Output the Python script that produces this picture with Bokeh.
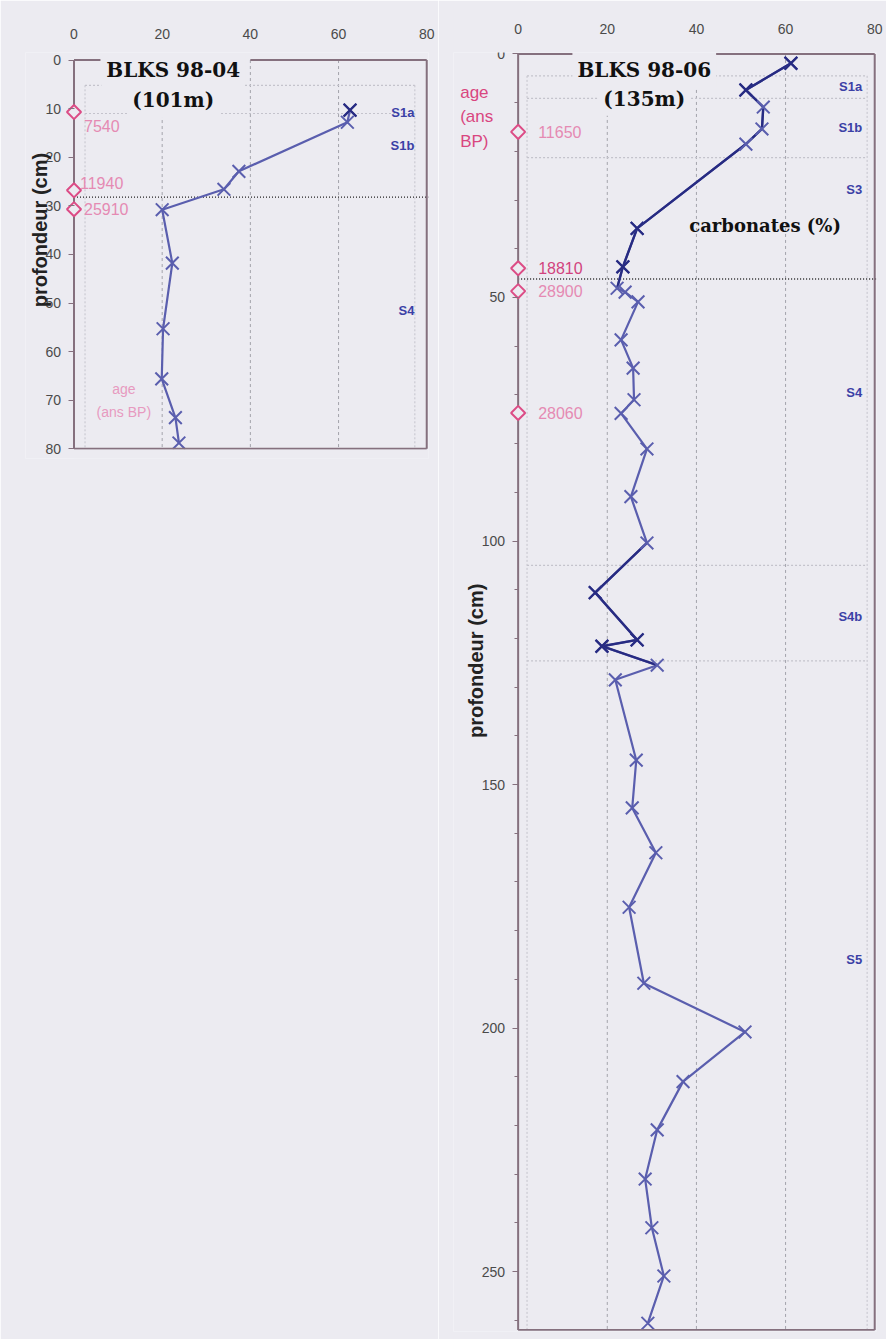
import math
from bokeh.plotting import figure
from bokeh.models import Range1d, FixedTicker, Label
from bokeh.layouts import row
from bokeh.embed import file_html
from bokeh.resources import INLINE
from bokeh.core.properties import value

# ---------------- data : BLKS 98-04 (101 m) ----------------
depth_04 = [10.3, 12.8, 22.9, 26.6, 30.8, 41.8, 55.3, 65.6, 73.6, 78.8]
carb_04 = [62.6, 62.0, 37.4, 34.0, 20.0, 22.3, 20.2, 19.9, 23.0, 23.8]
age_depth_04 = [10.7, 26.8, 30.7]
age_04 = ["7540", "11940", "25910"]
zone_names_04 = ["S1a", "S1b", "S4"]
zone_label_depth_04 = [10.7, 17.5, 51.5]
zone_bounds_04 = [5.2, 11.0]
main_bound_04 = [28.2]
y_ticks_04 = [0, 10, 20, 30, 40, 50, 60, 70, 80]

# ---------------- data : BLKS 98-06 (135 m) ----------------
depth_06 = [1.9, 7.4, 10.9, 15.4, 18.5, 35.8, 43.7, 48.1, 48.9, 50.9, 58.7, 64.5,
            71.0, 73.8, 81.1, 90.9, 100.4, 110.6, 120.3, 121.6, 125.5, 128.5,
            145.0, 154.8, 164.0, 175.2, 190.8, 200.8, 211.0, 220.9, 231.0,
            241.0, 250.9, 260.6]
carb_06 = [61.2, 51.1, 55.0, 54.7, 51.1, 26.7, 23.5, 22.2, 24.0, 26.9, 23.1, 25.8,
           26.0, 23.1, 28.9, 25.3, 28.9, 17.3, 26.7, 18.8, 31.2, 21.8,
           26.5, 25.6, 30.9, 24.9, 28.2, 50.9, 37.0, 31.2, 28.5,
           30.0, 32.7, 29.1]
age_depth_06 = [16.0, 44.0, 48.7, 73.7]
age_06 = ["11650", "18810", "28900", "28060"]
zone_names_06 = ["S1a", "S1b", "S3", "S4", "S4b", "S5"]
zone_label_depth_06 = [6.7, 15.2, 27.9, 69.6, 115.6, 186.0]
zone_bounds_06 = [4.5, 9.1, 21.3, 105.0, 124.6]
main_bound_06 = [46.2]
y_ticks_06 = [0, 50, 100, 150, 200, 250]
y_minor_06 = list(range(0, 261, 10))

x_ticks = [0, 20, 40, 60, 80]
x_grid = [20, 40, 60]

# ---------------- style ----------------
BG = "#ecebf1"
FRAME = "#85707e"
LIGHT = "#5a5eae"
DARK = "#272b82"
AGE_MARK = "#dc4c86"
AGE_LIGHT = "#e58ab3"
AGE_DARK = "#d2437e"
ZONE_TXT = "#3b40a6"
GRID = "#a3a3ab"
BOX = "#c4c3cc"
TICK_TXT = "#4a4a4a"
PAD = 0.3


def panel(depth, carb, x_start, y_end, y_bottom, y_top, y_ticks, y_minor, frame_w,
          frame_h, b_left, b_top, b_right, b_bottom, top_gap, box_x, dark_runs,
          dark_pts, ages, age_depth, age_dx, age_dy, age_colors, zones, zone_depth,
          zone_bounds, main_bound, tick_standoff):
    p = figure(frame_width=frame_w, frame_height=frame_h,
               x_range=Range1d(x_start, 80.4), y_range=Range1d(y_bottom, y_top),
               x_axis_location="above", output_backend="svg", toolbar_location=None,
               min_border_left=b_left, min_border_top=b_top,
               min_border_right=b_right, min_border_bottom=b_bottom)
    p.background_fill_color = BG
    p.border_fill_color = BG
    p.outline_line_color = None

    xa = p.xaxis[0]
    xa.ticker = FixedTicker(ticks=x_ticks)
    xa.axis_line_color = None
    xa.major_tick_line_color = None
    xa.minor_tick_line_color = None
    xa.major_label_text_font = "Liberation Sans"
    xa.major_label_text_font_size = "14px"
    xa.major_label_text_color = TICK_TXT
    xa.major_label_standoff = tick_standoff

    ya = p.yaxis[0]
    ya.ticker = FixedTicker(ticks=y_ticks, minor_ticks=y_minor)
    ya.axis_line_color = None
    ya.fixed_location = 0
    ya.major_tick_in = 0
    ya.major_tick_out = 6
    ya.minor_tick_in = 0
    ya.minor_tick_out = 4
    ya.major_label_standoff = 7
    ya.major_tick_line_color = FRAME
    ya.minor_tick_line_color = FRAME
    ya.major_label_text_font = "Liberation Sans"
    ya.major_label_text_font_size = "14px"
    ya.major_label_text_color = TICK_TXT

    p.xgrid.grid_line_color = None
    p.ygrid.grid_line_color = None
    p.segment(x0=x_grid, y0=[0] * len(x_grid), x1=x_grid, y1=[y_end] * len(x_grid),
              line_color=GRID, line_width=1, line_dash="3 3")

    # faint zone box
    p.segment(x0=[box_x[0], box_x[1]], y0=[zone_bounds[0]] * 2,
              x1=[box_x[0], box_x[1]], y1=[y_end] * 2,
              line_color=BOX, line_width=1, line_dash="2 2")
    p.segment(x0=[box_x[0]] * len(zone_bounds), y0=zone_bounds,
              x1=[box_x[1]] * len(zone_bounds), y1=zone_bounds,
              line_color=BOX, line_width=1.2, line_dash="2 2")
    # main boundary
    p.segment(x0=[0] * len(main_bound), y0=main_bound,
              x1=[80.4] * len(main_bound), y1=main_bound,
              line_color="#222222", line_width=1.3, line_dash="1 2")

    # carbonate profile
    p.line(carb, depth, line_color=LIGHT, line_width=2.2)
    for a, b in dark_runs:
        p.line(carb[a:b + 1], depth[a:b + 1], line_color=DARK, line_width=2.4)
    p.scatter(carb, depth, marker="x", size=18, line_color=LIGHT, line_width=2)
    if dark_pts:
        p.scatter([carb[i] for i in dark_pts], [depth[i] for i in dark_pts],
                  marker="x", size=18, line_color=DARK, line_width=2.3)

    # frame (bottom edge drawn over the last markers, as in the original)
    p.segment(x0=[0, 80, 0, 0, top_gap[1]], y0=[0, 0, y_end, 0, 0],
              x1=[0, 80, 80, top_gap[0], 80], y1=[y_end, y_end, y_end, 0, 0],
              line_color=FRAME, line_width=2)
    p.quad(left=[0], right=[80.4], top=[y_end + 0.15], bottom=[y_bottom],
           fill_color=BG, line_color=None)

    # ages
    p.scatter([0] * len(age_depth), age_depth, marker="square", angle=math.pi / 4,
              size=10, fill_color=BG, line_color=AGE_MARK, line_width=2)
    p.text(x=[0] * len(age_depth), y=age_depth, text=ages, x_offset=age_dx,
           y_offset=age_dy, text_color=age_colors, text_baseline="middle",
           text_font=value("Liberation Sans"), text_font_size="16px")

    # zone names
    p.text(x=[77.2] * len(zones), y=zone_depth, text=zones, text_align="right",
           text_baseline="middle", text_color=ZONE_TXT,
           text_font=value("Liberation Sans"), text_font_style="bold",
           text_font_size="13px")
    return p


def title_label(p, x, y, text):
    p.add_layout(Label(x=x, y=y, text=text, text_align="center",
                       text_baseline="middle", text_font="DejaVu Serif",
                       text_font_style="bold", text_font_size="20px",
                       text_color="#111111", background_fill_color=BG, padding=5))


def depth_label(p, x, y):
    p.add_layout(Label(x=x, y=y, text="profondeur (cm)", angle=math.pi / 2,
                       text_align="center", text_baseline="middle",
                       text_font="Liberation Sans", text_font_style="bold",
                       text_font_size="20px", text_color="#222222"))


p1 = panel(depth_04, carb_04, -11.0, 80, 82.0, -1.55, y_ticks_04, [], 403, 406, 25,
           52, 10, 881, (6.0, 40.0), (2.5, 77.3), [], [0],
           age_04, age_depth_04, [10, 6, 10], [14, -7, 0],
           [AGE_LIGHT, AGE_LIGHT, AGE_LIGHT],
           zone_names_04, zone_label_depth_04, zone_bounds_04, main_bound_04, 8)
title_label(p1, 22.5, 2.1, "BLKS 98-04")
title_label(p1, 22.5, 8.2, "(101m)")
depth_label(p1, -7.7, 35.0)
p1.add_layout(Label(x=11.3, y=70.1, text="age\n(ans BP)", text_align="center",
                    text_baseline="middle", text_font="Liberation Sans",
                    text_font_size="14px", text_line_height=1.4,
                    text_color="#e79ac0"))

p2 = panel(depth_06, carb_06, -14.5, 262, 262 + PAD, -PAD, y_ticks_06, y_minor_06,
           423, 1279, 15, 52, 10, 8, (13.0, 44.0), (2.0, 78.3), [(0, 7), (16, 20)],
           [0, 1, 5, 6, 17, 18, 19],
           age_06, age_depth_06, [20, 20, 20, 20], [0, 0, 0, 0],
           [AGE_LIGHT, AGE_DARK, AGE_LIGHT, AGE_LIGHT],
           zone_names_06, zone_label_depth_06, zone_bounds_06, main_bound_06, 13)
title_label(p2, 28.3, 3.3, "BLKS 98-06")
title_label(p2, 28.3, 9.2, "(135m)")
depth_label(p2, -9.4, 124.6)
p2.add_layout(Label(x=55.4, y=35.3, text="carbonates (%)", text_align="center",
                    text_baseline="middle", text_font="DejaVu Serif",
                    text_font_style="bold", text_font_size="18px",
                    text_color="#111111"))
p2.add_layout(Label(x=-13.0, y=12.9, text="age\n(ans\nBP)", text_align="left",
                    text_baseline="middle", text_font="Liberation Sans",
                    text_font_size="17px", text_line_height=1.3,
                    text_color="#d9467f"))

layout = row(p1, p2)
html = file_html(layout, INLINE)
html = html.replace("<body>", '<body style="background-color: #ecebf1;">', 1)
open("out.html", "w").write(html)
